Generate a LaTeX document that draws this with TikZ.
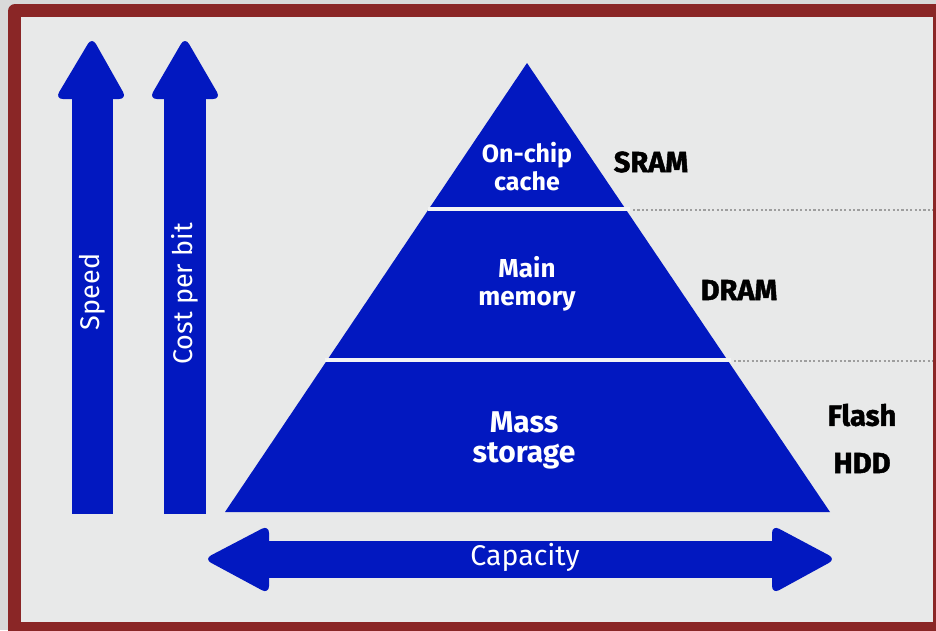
\documentclass[tikz,border=0pt]{standalone}
\usepackage{fontspec}
\setmainfont{Fira Sans}
\newfontfamily\heavyfont{Fira Sans}[BoldFeatures={FakeBold=1.6}]
\definecolor{outerbg}{HTML}{D9D9D9}
\definecolor{framered}{HTML}{8A2626}
\definecolor{panel}{HTML}{E8E9E9}
\definecolor{hpblue}{RGB}{2,24,192}
\definecolor{dotgray}{HTML}{9E9E9E}
\tikzset{
  bluefill/.style={fill=hpblue},
  headfill/.style={fill=hpblue, rounded corners=8pt},
  whitelbl/.style={text=white, inner sep=0pt, font=\fontsize{27}{28}\selectfont},
  tierlbl/.style={text=white, inner sep=0pt, align=center, font=\bfseries\fontsize{25}{28}\selectfont},
  techlbl/.style={text=black, inner sep=0pt, font=\heavyfont\bfseries\fontsize{29}{30}\selectfont},
  sepline/.style={draw=panel!50!white, line width=3.5pt},
  guide/.style={draw=dotgray, line width=2.4pt, dash pattern=on 2.2pt off 2.2pt}
}
\begin{document}
\begin{tikzpicture}[x=1pt,y=-1pt]
\useasboundingbox (0,0) rectangle (936,630);
\clip (0,0) rectangle (936,630);
% frame
\fill[outerbg] (0,0) rectangle (936,630);
\fill[framered, rounded corners=7pt] (8,4) rectangle (980,680);
\fill[panel] (21,17) rectangle (933,622);

% vertical arrows: shaft plus rounded head
\fill[bluefill] (72,514) rectangle (113,92);
\fill[headfill] (55,99) -- (92,37) -- (127,99) -- cycle;
\fill[bluefill] (164,514) rectangle (206,92);
\fill[headfill] (149,99) -- (185,37) -- (221,99) -- cycle;

% horizontal double arrow
\fill[bluefill] (262,541) rectangle (779,578);
\fill[headfill] (269,525) -- (204,559) -- (269,594) -- cycle;
\fill[headfill] (772,525) -- (836,559) -- (772,594) -- cycle;

% pyramid
\coordinate (apex) at (527,63);
\coordinate (bl) at (225,512);
\coordinate (br) at (830,512);
\fill[bluefill] (apex) -- (bl) -- (br) -- cycle;
\draw[sepline] (428,209) -- (630,209);
\draw[sepline] (325,360) -- (731,360);
\draw[guide] (633,210) -- (933,210);
\draw[guide] (734,361) -- (933,361);

% labels
\node[whitelbl, rotate=90] (speed) at (92,292) {Speed};
\node[whitelbl, rotate=90] (cost) at (185,294) {Cost per bit};
\node[whitelbl, font=\fontsize{28.5}{30}\selectfont] (cap) at (525,557) {Capacity};

\node[tierlbl] (cache) at (527,167) {On-chip\\cache};
\node[tierlbl, font=\bfseries\fontsize{26}{28}\selectfont] (main) at (527,284) {Main\\memory};
\node[tierlbl, font=\bfseries\fontsize{30}{30}\selectfont] (mass) at (524,440) {Mass\\storage};

\node[techlbl] (sram) at (651,162) {SRAM};
\node[techlbl] (dram) at (739,290) {DRAM};
\node[techlbl] (flash) at (862,415) {Flash};
\node[techlbl] (hdd) at (862,463) {HDD};
\end{tikzpicture}
\end{document}
